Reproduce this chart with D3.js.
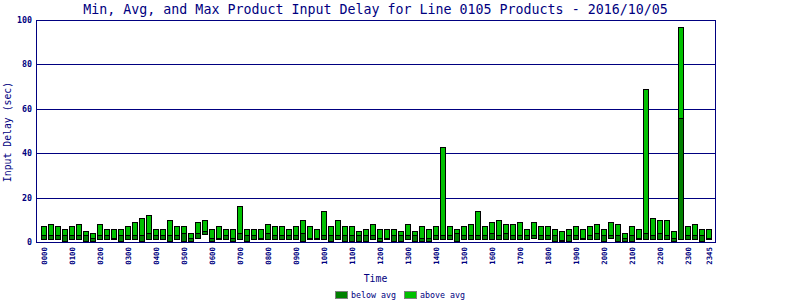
<!DOCTYPE html>
<html>
<head>
<meta charset="utf-8">
<script src="https://cdn.jsdelivr.net/npm/d3@7"></script>
<style>
  body { margin: 0; background: #fff; }
  svg text { font-family: "DejaVu Sans Mono", monospace; fill: #000080; }
</style>
</head>
<body>
<svg id="chart" width="800" height="300"></svg>
<script>
// data: one bar every 15 minutes, min / avg / max delay in seconds
const minVals = [1,1,1,0,1,1,0,0,1,1,1,0,1,1,0,1,1,1,0,1,0,0,1.5,3,0,1,1,0,1,0,1,1,
  1,1,1,1,1,0,1,1,1,0,1,0,0,0,0,1,0,1,0,0,1,0,0,0,1,1,1,0,1,1,1,1,
  1,1,1,1,1,1,1.5,1,1,0,0,0,1,1,1,1,0,1.5,0,0,0,1,1,1,1,1,0,1,1,1,0,1];
const avgVals = [3,3,3,3,3,3,3,2,3,3,2,3,3,3,3,4,3,3,3,3,4,2,4,5,2,2,3,2,4,3,3,2,
  4,3,3,3,3,4,2,2,3,3,3,3,3,3,3,3,2,2,3,3,3,3,2,2,3,3,3,4,3,3,3,3,
  4,3,4,3,3,3,3,3,3,3,1,3,3,2,3,4,3,3,3,2,3,2,4,3,4,3,2,56,3,3,3,2];
const maxVals = [7,8,7,6,7,8,5,4,8,6,6,6,7,9,11,12,6,6,10,7,7,4,9,10,6,7,6,6,16,6,6,6,
  8,7,7,6,7,10,7,6,14,7,10,7,7,5,6,8,6,6,6,5,8,5,7,6,7,43,7,6,7,8,14,7,
  9,10,8,8,9,6,9,7,7,6,5,6,7,6,7,8,6,9,8,4,7,6,69,11,10,10,5,97,7,8,6,6];
const tickLabels = ["0000","0100","0200","0300","0400","0500","0600","0700","0800","0900",
  "1000","1100","1200","1300","1400","1500","1600","1700","1800","1900","2000","2100",
  "2200","2300","2345"];
const tickIndex = [0,4,8,12,16,20,24,28,32,36,40,44,48,52,56,60,64,68,72,76,80,84,88,92,95];
const yTicks = [0, 20, 40, 60, 80, 100];

const navy = "#000080";
const darkGreen = "#008000", lightGreen = "#00c000";

const svg = d3.select("#chart");
const plotLeft = 36, plotRight = 715, plotTop = 20, plotBottom = 242;

const data = minVals.map((m, i) => ({ i, min: m, avg: avgVals[i], max: maxVals[i] }));

const x = d3.scaleBand().domain(d3.range(data.length)).range([41, 713]).padding(0);
const y = d3.scaleLinear().domain([0, 100]).range([plotBottom, plotTop]);

// grid lines
svg.append("g")
  .selectAll("line")
  .data(yTicks)
  .join("line")
  .attr("x1", plotLeft)
  .attr("x2", plotRight)
  .attr("y1", (d) => Math.round(y(d)) + 0.5)
  .attr("y2", (d) => Math.round(y(d)) + 0.5)
  .attr("stroke", navy)
  .attr("stroke-width", 1);

// frame sides
svg.append("line").attr("x1", plotLeft + 0.5).attr("x2", plotLeft + 0.5)
  .attr("y1", plotTop).attr("y2", plotBottom + 1).attr("stroke", navy);
svg.append("line").attr("x1", plotRight + 0.5).attr("x2", plotRight + 0.5)
  .attr("y1", plotTop).attr("y2", plotBottom + 1).attr("stroke", navy);

// y tick labels
svg.append("g")
  .selectAll("text")
  .data(yTicks)
  .join("text")
  .attr("x", 32)
  .attr("y", (d) => y(d) + 3)
  .attr("text-anchor", "end")
  .style("font-size", "8.3px")
  .style("font-weight", "bold")
  .text((d) => d);

// bars: dark part min..avg, light part avg..max
const bars = svg.append("g").attr("shape-rendering", "crispEdges");
bars.selectAll("rect.low")
  .data(data)
  .join("rect")
  .attr("class", "low")
  .attr("x", (d) => x(d.i) + 0.5)
  .attr("width", 5)
  .attr("y", (d) => Math.round(y(d.avg)) + 0.5)
  .attr("height", (d) => Math.max(0, Math.round(y(d.min)) - Math.round(y(d.avg)) - 1))
  .attr("fill", darkGreen)
  .attr("stroke", "#000");
bars.selectAll("rect.high")
  .data(data)
  .join("rect")
  .attr("class", "high")
  .attr("x", (d) => x(d.i) + 0.5)
  .attr("width", 5)
  .attr("y", (d) => Math.round(y(d.max)) + 0.5)
  .attr("height", (d) => Math.round(y(d.avg)) - Math.round(y(d.max)))
  .attr("fill", lightGreen)
  .attr("stroke", "#000");

// x tick labels (rotated)
svg.append("g")
  .selectAll("text")
  .data(tickIndex)
  .join("text")
  .attr("transform", (d, k) => `translate(${x(d) + 5.5},247)rotate(-90)`)
  .attr("text-anchor", "end")
  .style("font-size", "7.4px")
  .style("font-weight", "bold")
  .text((d, k) => tickLabels[k]);

// title
svg.append("text")
  .attr("x", (plotLeft + plotRight) / 2)
  .attr("y", 14)
  .attr("text-anchor", "middle")
  .style("font-size", "13.3px")
  .text("Min, Avg, and Max Product Input Delay for Line 0105 Products - 2016/10/05");

// axis titles
svg.append("text")
  .attr("x", (plotLeft + plotRight) / 2)
  .attr("y", 282)
  .attr("text-anchor", "middle")
  .style("font-size", "9.8px")
  .text("Time");

svg.append("text")
  .attr("transform", "translate(11,132)rotate(-90)")
  .attr("text-anchor", "middle")
  .style("font-size", "9.8px")
  .text("Input Delay (sec)");

// legend
const legendItems = [
  { label: "below avg", color: darkGreen, x: 335 },
  { label: "above avg", color: lightGreen, x: 404 },
];
const legend = svg.append("g");
legendItems.forEach((item) => {
  legend.append("rect")
    .attr("x", item.x + 0.5)
    .attr("y", 291.5)
    .attr("width", 12)
    .attr("height", 7)
    .attr("fill", item.color)
    .attr("stroke", "#808080");
  legend.append("text")
    .attr("x", item.x + 16)
    .attr("y", 298)
    .style("font-size", "8.3px")
    .text(item.label);
});
</script>
</body>
</html>
